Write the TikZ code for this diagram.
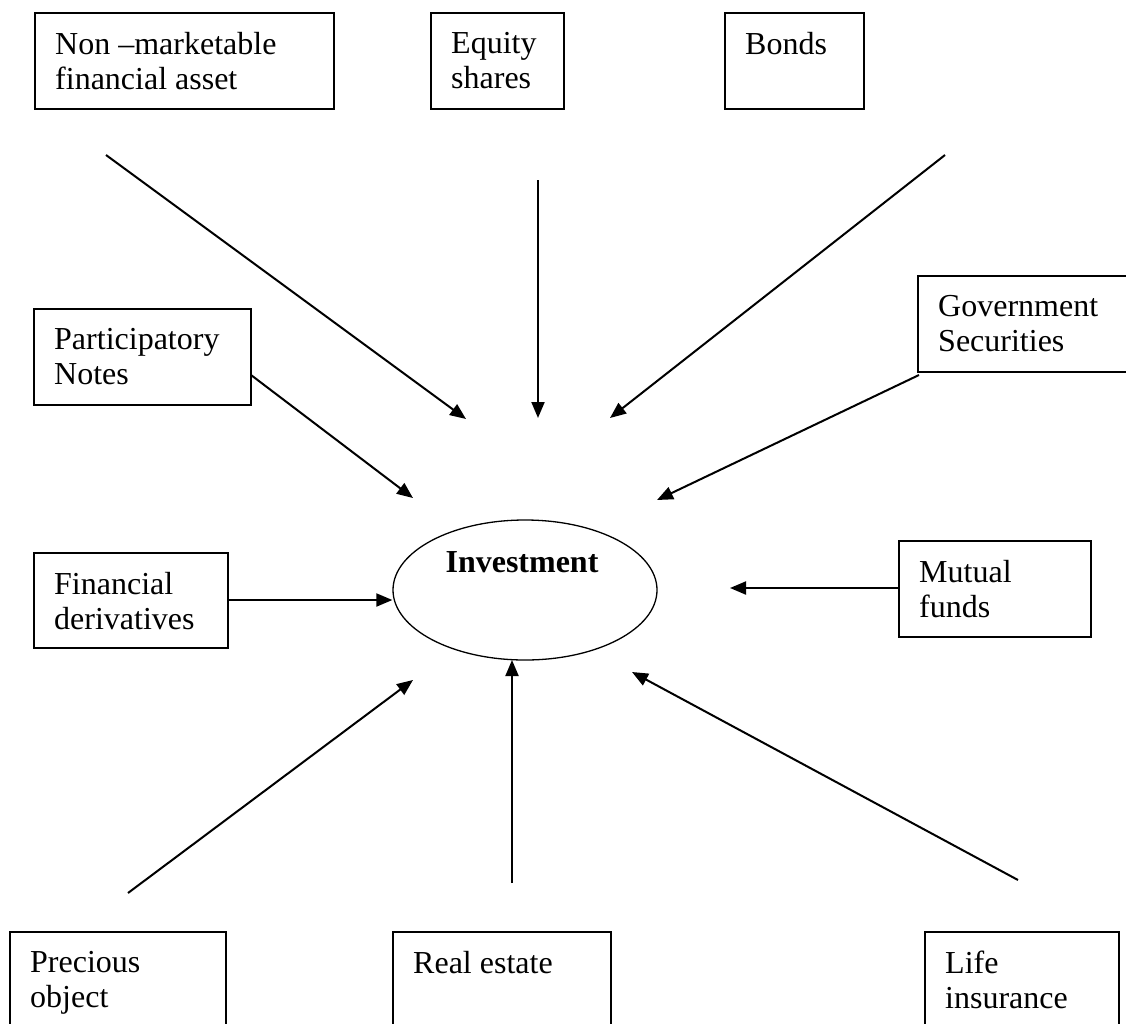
\documentclass[tikz,border=0pt]{standalone}
\usepackage{fontspec}
\setmainfont{Liberation Serif}
\usetikzlibrary{arrows.meta,shapes.geometric}

% box with its top-left caption: name, x, y, width, height, text
\newcommand\assetbox[6]{%
  \node[box,minimum width=#4pt,minimum height=#5pt] (#1) at (#2,#3) {};
  \node[txt] (#1-t) at ([xshift=21pt,yshift=-20pt]#1.north west) {#6};
}

\begin{document}
\begin{tikzpicture}[x=1pt,y=-1pt,
  box/.style={draw,line width=1.7pt,rectangle,inner sep=0pt,anchor=north west},
  txt/.style={anchor=north west,inner sep=0pt,align=left,font=\fontsize{32}{35}\selectfont},
  link/.style={line width=2pt,-{Triangle[length=16pt,width=13pt]}},
]
\useasboundingbox (0,0) rectangle (1126,1023);
\clip (0,0) rectangle (1126,1023);

% centre
\node[ellipse,draw,line width=1.3pt,minimum width=264pt,minimum height=140pt,inner sep=0pt] (inv) at (525,590) {};
\node[anchor=base,inner sep=0pt,font=\fontsize{32}{35}\selectfont\bfseries] (inv-t) at (522,572) {Investment};

% surrounding assets
\assetbox{nm}{34}{12}{299}{96}{Non –marketable\\financial asset}
\assetbox{eq}{430}{12}{133}{96}{Equity\\shares}
\assetbox{bo}{724}{12}{139}{96}{Bonds}
\assetbox{gov}{917}{275}{215}{96}{Government\\Securities}
\assetbox{pn}{33}{308}{217}{96}{Participatory\\Notes}
\assetbox{fd}{33}{552}{194}{95}{Financial\\derivatives}
\assetbox{mf}{898}{540}{192}{96}{Mutual\\funds}
\assetbox{po}{9}{931}{216}{110}{Precious\\object}
\assetbox{re}{392}{931}{218}{110}{Real estate}
\assetbox{li}{924}{931}{194}{110}{Life\\insurance}

% arrow ends
\coordinate (nmS) at (106,155);  \coordinate (nmE) at (466,419);
\coordinate (eqS) at (538,180);  \coordinate (eqE) at (538,418);
\coordinate (boS) at (945,155);  \coordinate (boE) at (610,418);
\coordinate (govS) at (919,375); \coordinate (govE) at (657,500);
\coordinate (pnS) at (251,375);  \coordinate (pnE) at (413,498);
\coordinate (mfE) at (730,588);
\coordinate (poS) at (128,893);  \coordinate (poE) at (413,680);
\coordinate (reS) at (512,883);  \coordinate (reE) at (512,660);
\coordinate (liS) at (1018,880); \coordinate (liE) at (632,672);

\draw[link] (nmS) -- (nmE);
\draw[link] (eqS) -- (eqE);
\draw[link] (boS) -- (boE);
\draw[link] (govS) -- (govE);
\draw[link] (pnS) -- (pnE);
\draw[link] (fd.east |- 0,600) -- (inv.west |- 0,600);
\draw[link] (mf.west |- 0,588) -- (mfE);
\draw[link] (poS) -- (poE);
\draw[link] (reS) -- (reE);
\draw[link] (liS) -- (liE);
\end{tikzpicture}
\end{document}
